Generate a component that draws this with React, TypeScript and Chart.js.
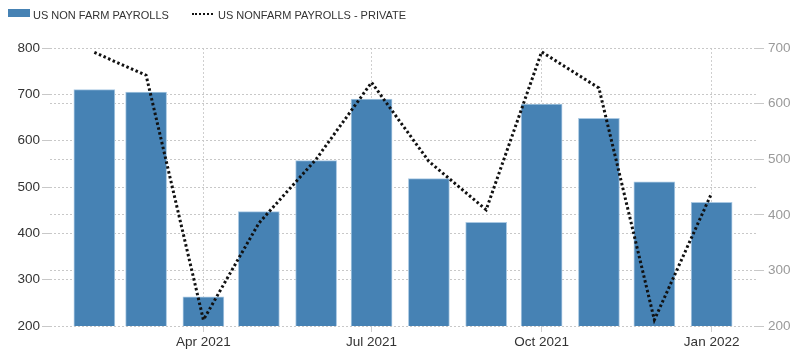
import React, { useEffect, useRef } from "react";
import { Chart, registerables } from "chart.js";

Chart.register(...registerables);

const months = ["2021-02", "2021-03", "2021-04", "2021-05", "2021-06", "2021-07", "2021-08", "2021-09", "2021-10", "2021-11", "2021-12", "2022-01"];
const payrolls = [710, 705, 263, 447, 557, 690, 518, 424, 679, 648, 511, 467];
const privatePayrolls = [692, 651, 211, 385, 500, 638, 496, 409, 693, 628, 211, 439];
const tickMonths = ["2021-04", "2021-07", "2021-10", "2022-01"];
const tickLabels = ["Apr 2021", "Jul 2021", "Oct 2021", "Jan 2022"];
const seriesNames = ["US NON FARM PAYROLLS", "US NONFARM PAYROLLS - PRIVATE"];

const dayOf = (m: string) => {
  const [y, mo] = m.split("-").map(Number);
  return (Date.UTC(y, mo - 1, 1) - Date.UTC(2021, 0, 1)) / 86400000;
};

const FONT = "'Liberation Sans', Arial, sans-serif";

export default function App() {
  const ref = useRef<HTMLCanvasElement | null>(null);
  useEffect(() => {
    if (!ref.current) return;
    const xs = months.map(dayOf);
    const tickDays = tickMonths.map(dayOf);
    const chart = new Chart(ref.current, {
      type: "bar",
      data: {
        datasets: [
          {
            type: "bar",
            label: seriesNames[0],
            data: xs.map((x, i) => ({ x, y: payrolls[i] })),
            backgroundColor: "#4682b4",
            borderColor: "#a9c8e2",
            borderWidth: 1,
            barThickness: 41,
            yAxisID: "y",
            order: 1,
          },
          {
            type: "line",
            label: seriesNames[1],
            data: xs.map((x, i) => ({ x, y: privatePayrolls[i] })),
            borderColor: "#111",
            borderWidth: 3,
            borderDash: [2.5, 2.5],
            borderCapStyle: "butt",
            pointRadius: 0,
            tension: 0,
            fill: false,
            yAxisID: "y1",
            order: 0,
          },
        ] as any,
      },
      options: {
        responsive: false,
        animation: false,
        devicePixelRatio: 1,
        layout: { padding: { top: 48, bottom: 0, left: 0, right: 0 } },
        plugins: { legend: { display: false }, tooltip: { enabled: false } },
        scales: {
          x: {
            type: "linear",
            min: xs[0] - 24,
            max: xs[xs.length - 1] + 24,
            offset: false,
            grid: { offset: false, color: "#cfcfcf", tickColor: "#cfcfcf", tickLength: 6, drawTicks: true },
            border: { display: false, dash: [2, 2] },
            afterBuildTicks: (scale: any) => {
              scale.ticks = tickDays.map((value) => ({ value }));
            },
            afterFit: (scale: any) => {
              scale.height = 28;
            },
            ticks: {
              autoSkip: false,
              maxRotation: 0,
              padding: 2,
              color: "#333",
              font: { family: FONT, size: 13.5 },
              callback: (v: any) => {
                const i = tickDays.indexOf(Number(v));
                return i >= 0 ? tickLabels[i] : "";
              },
            },
          },
          y: {
            type: "linear",
            position: "left",
            min: 200,
            max: 800,
            grid: { color: "#c8c8c8", tickColor: "#c8c8c8", tickLength: 8 },
            border: { display: false, dash: [2, 2] },
            afterFit: (scale: any) => {
              scale.width = 50;
            },
            ticks: { stepSize: 100, padding: 2, color: "#333", font: { family: FONT, size: 13.5 } },
          },
          y1: {
            type: "linear",
            position: "right",
            min: 200,
            max: 700,
            grid: { color: "#c8c8c8", tickColor: "#c8c8c8", tickLength: 8 },
            border: { display: false, dash: [2, 2] },
            afterFit: (scale: any) => {
              scale.width = 44;
            },
            ticks: { stepSize: 100, padding: 4, color: "#9a9a9a", font: { family: FONT, size: 13.5 } },
          },
        },
      } as any,
    });
    return () => chart.destroy();
  }, []);

  const textStyle: React.CSSProperties = {
    position: "absolute",
    top: 9,
    fontFamily: FONT,
    fontSize: 11,
    lineHeight: "12px",
    color: "#333",
    whiteSpace: "nowrap",
  };

  return (
    <div style={{ position: "fixed", left: 0, top: 0, width: 800, height: 354, background: "#fff" }}>
      <canvas ref={ref} width={800} height={354} style={{ position: "absolute", left: 0, top: 0, width: 800, height: 354 }} />
      <div style={{ position: "absolute", left: 8, top: 9, width: 22, height: 8, background: "#4682b4" }} />
      <span style={{ ...textStyle, left: 33 }}>{seriesNames[0]}</span>
      <div style={{ position: "absolute", left: 192, top: 13, width: 21, height: 0, borderTop: "2px dotted #111" }} />
      <span style={{ ...textStyle, left: 218 }}>{seriesNames[1]}</span>
    </div>
  );
}
